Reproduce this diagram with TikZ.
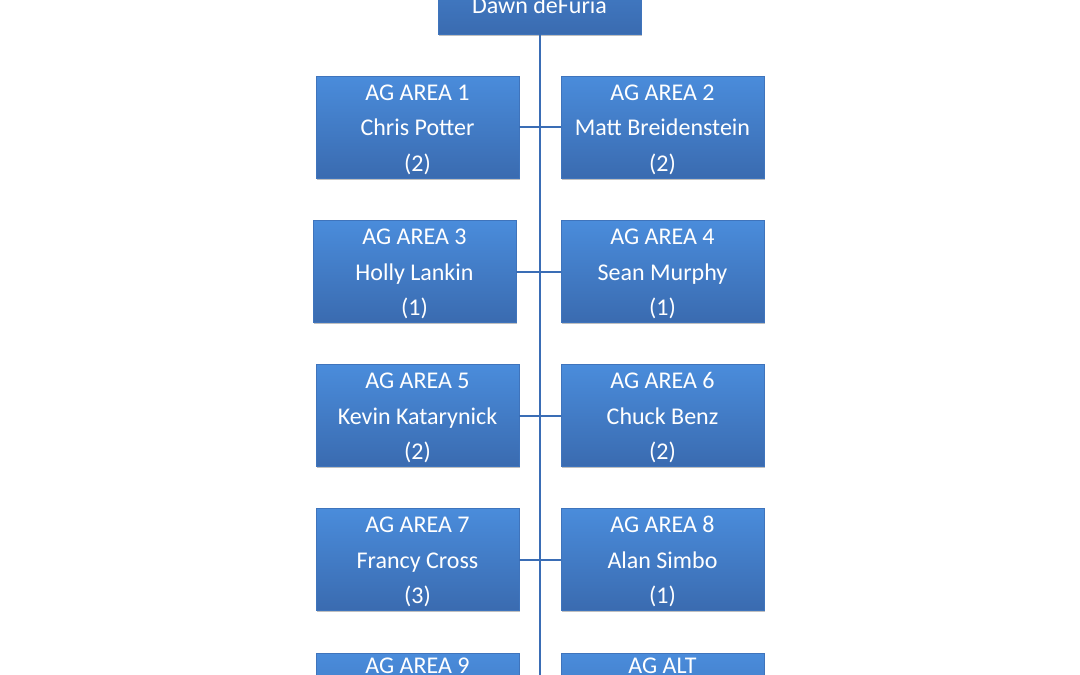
\documentclass[tikz,border=0pt]{standalone}
\usepackage{fontspec}
\setmainfont{Carlito}
\usetikzlibrary{shadows}
\definecolor{boxtop}{HTML}{4A8CDB}
\definecolor{boxbot}{HTML}{3A6BB0}
\definecolor{boxedge}{HTML}{3F74BC}
\definecolor{linkc}{HTML}{3A6DB5}
\newcommand{\topstrut}{\rule{0pt}{24pt}}
\newcommand{\botstrut}{\rule[-7pt]{0pt}{7pt}}
\tikzset{
  agbox/.style={rectangle, minimum width=203pt, minimum height=102pt,
    inner sep=0pt, top color=boxtop, bottom color=boxbot, draw=boxedge, line width=0.4pt,
    text=white, align=center,
    font=\fontsize{24pt}{35.5pt}\selectfont,
    drop shadow={shadow xshift=1pt, shadow yshift=-1.5pt, fill=black, opacity=0.25}},
  link/.style={draw=linkc, line width=2pt},
  plaintext/.style={text=white, font=\fontsize{24pt}{35.5pt}\selectfont, inner sep=0pt}
}
\begin{document}
\begin{tikzpicture}[x=1pt,y=-1pt]
\useasboundingbox (0,0) rectangle (1080,675);
\clip (0,0) rectangle (1080,675);
\fill[white] (0,0) rectangle (1080,675);
% top
\node[agbox, text height=62pt, text depth=2pt] (top) at (539.5,-17) {Dawn deFuria};
\coordinate (trunkend) at (540,676);
% rows
\node[agbox] (a1) at (417.5,127) {\topstrut AG AREA 1\\Chris Potter\\(2)\botstrut};
\node[agbox] (a2) at (662.5,127) {\topstrut AG AREA 2\\Matt Breidenstein\\(2)\botstrut};
\node[agbox] (a3) at (414.5,271.5) {\topstrut AG AREA 3\\Holly Lankin\\(1)\botstrut};
\node[agbox] (a4) at (662.5,271.5) {\topstrut AG AREA 4\\Sean Murphy\\(1)\botstrut};
\node[agbox] (a5) at (417.5,415.5) {\topstrut AG AREA 5\\Kevin Katarynick\\(2)\botstrut};
\node[agbox] (a6) at (662.5,415.5) {\topstrut AG AREA 6\\Chuck Benz\\(2)\botstrut};
\node[agbox] (a7) at (417.5,559.5) {\topstrut AG AREA 7\\Francy Cross\\(3)\botstrut};
\node[agbox] (a8) at (662.5,559.5) {\topstrut AG AREA 8\\Alan Simbo\\(1)\botstrut};
\node[agbox] (a9) at (417.5,704) {};
\node[agbox] (alt) at (662.5,704) {};
\node[plaintext, anchor=base] (a9t) at ([yshift=-20.5pt]a9.north) {AG AREA 9};
\node[plaintext, anchor=base] (altt) at ([yshift=-20.5pt]alt.north) {AG ALT};
% connectors
\draw[link] (top.south) -- (top.south |- trunkend);
\draw[link] (a1.east) -- (a2.west);
\draw[link] (a3.east) -- (a4.west);
\draw[link] (a5.east) -- (a6.west);
\draw[link] (a7.east) -- (a8.west);
\end{tikzpicture}
\end{document}
